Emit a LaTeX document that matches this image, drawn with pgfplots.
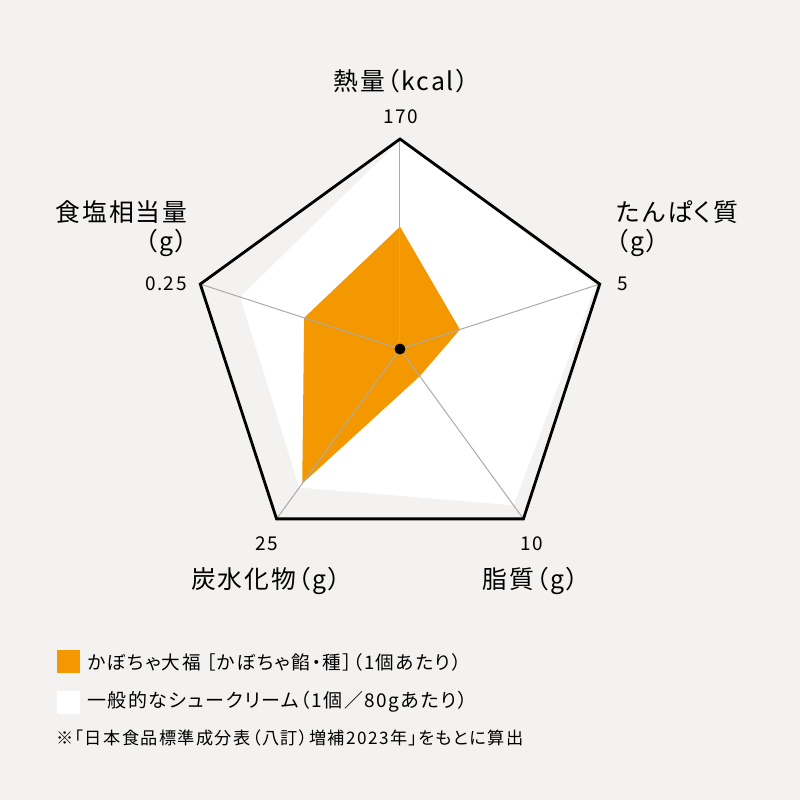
\documentclass[border=0pt]{standalone}
\usepackage{fontspec}
\setmainfont{Noto Sans CJK JP}
\newfontfamily\jp{Noto Sans CJK JP}[LetterSpace=8, RawFeature=+palt]
\usepackage{pgfplots}
\pgfplotsset{compat=1.18}
\usepgfplotslibrary{polar}
\usepackage{pgfplotstable}

\definecolor{bgc}{HTML}{F3F2F0}
\definecolor{kabo}{HTML}{F39800}
\definecolor{spoke}{HTML}{ABABAB}

% angle, axis maximum, kabocha daifuku, cream puff
\pgfplotstableread{
angle max kabocha puff
90 170 99 169
18 5 1.5 4.9
-54 10 1.6 9.2
-126 25 19.8 20.4
-198 0.25 0.12 0.20
}\nutrition

\begin{document}
\begin{tikzpicture}
\fill[bgc] (0pt,0pt) rectangle (400pt,400pt);
\useasboundingbox (0pt,0pt) rectangle (400pt,400pt);

\begin{polaraxis}[
  at={(200pt,225.5pt)}, anchor=center,
  width=210pt, height=210pt, scale only axis,
  xmin=0, xmax=360,
  ymin=0, ymax=1,
  hide axis, clip=false,
]
% cream puff
\addplot[fill=white, draw=none] table[x=angle, y expr=\thisrow{puff}/\thisrow{max}] {\nutrition} -- cycle;
% kabocha daifuku
\addplot[fill=kabo, draw=none] table[x=angle, y expr=\thisrow{kabocha}/\thisrow{max}] {\nutrition} -- cycle;
% spokes
\addplot[spoke, line width=0.5pt] coordinates {(0,0) (90,1)};
\addplot[spoke, line width=0.5pt] coordinates {(0,0) (18,1)};
\addplot[spoke, line width=0.5pt] coordinates {(0,0) (-54,1)};
\addplot[spoke, line width=0.5pt] coordinates {(0,0) (-126,1)};
\addplot[spoke, line width=0.5pt] coordinates {(0,0) (-198,1)};
% outer frame
\addplot[black, line width=1.4pt, line join=miter] coordinates {(90,1) (18,1) (-54,1) (-126,1) (-198,1)} -- cycle;
% centre
\addplot[only marks, mark=*, mark size=2.5pt, black] coordinates {(0,0)};
\end{polaraxis}

\begin{scope}[x=0.5pt,y=0.5pt]
\begin{scope}[every node/.style={inner sep=0pt, font=\jp\fontsize{12.4}{14}\selectfont}]
\node at (401,719) {熱量（kcal）};
\node[anchor=west] at (616,588) {たんぱく質};
\node[anchor=west] at (616,557) {（g）};
\node[anchor=east] at (188,588) {食塩相当量};
\node[anchor=east] at (188,557) {（g）};
\node at (266,219) {炭水化物（g）};
\node at (531,219) {脂質（g）};
\end{scope}

\begin{scope}[every node/.style={inner sep=0pt, font=\jp\fontsize{9.5}{11}\selectfont}]
\node at (401,683) {170};
\node[anchor=west] at (617,516) {5};
\node[anchor=east] at (187,516) {0.25};
\node at (267,256) {25};
\node at (532,256) {10};
\end{scope}

\fill[kabo] (57,127) rectangle (80,150);
\fill[white] (57,86) rectangle (80,109);
\begin{scope}[every node/.style={inner sep=0pt, anchor=west}]
\node[font=\jp\fontsize{9.3}{11}\selectfont] at (87,138) {かぼちゃ大福 ［かぼちゃ餡・種］（1個あたり）};
\node[font=\jp\fontsize{9.5}{11}\selectfont] at (87,98) {一般的なシュークリーム（1個／80gあたり）};
\node[font=\jp\fontsize{8.6}{10}\selectfont] at (56,62) {※「日本食品標準成分表（八訂）増補2023年」をもとに算出};
\end{scope}
\end{scope}
\end{tikzpicture}
\end{document}
